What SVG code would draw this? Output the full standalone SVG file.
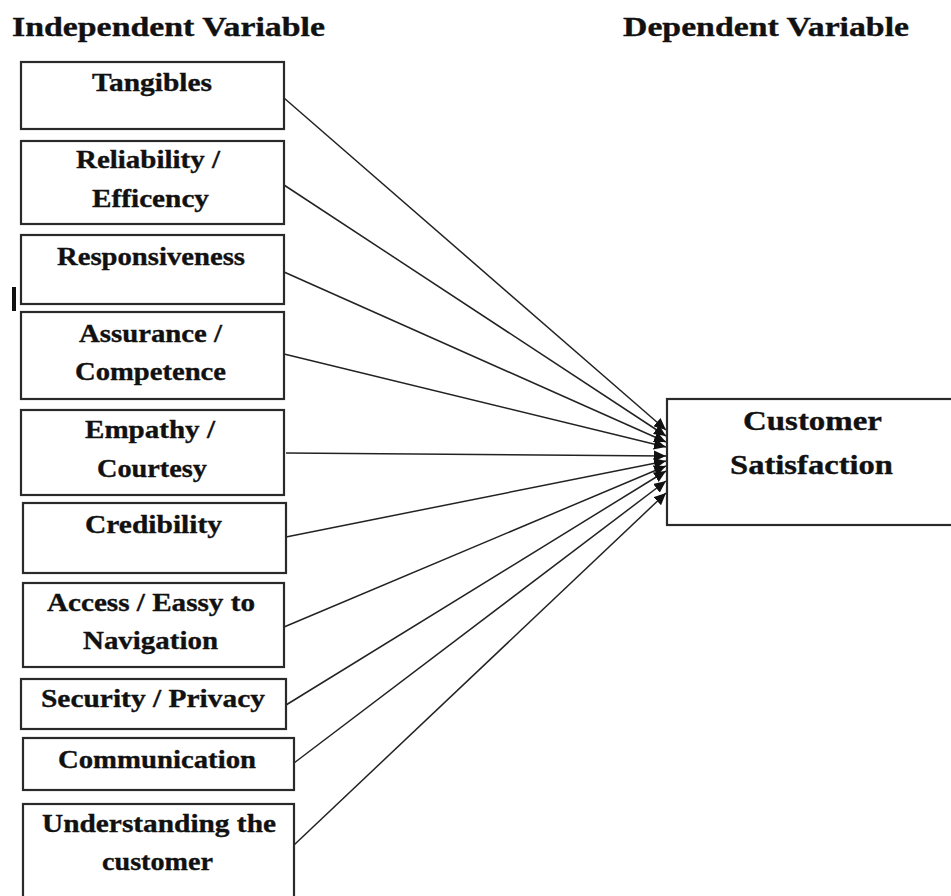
<svg xmlns="http://www.w3.org/2000/svg" width="951" height="896" viewBox="0 0 951 896">
  <style>
    .box { fill: #ffffff; stroke: #2a2a2a; stroke-width: 2.2; }
    .lbl { font-family: "Liberation Serif", "Times New Roman", serif; font-weight: bold; font-size: 26px; fill: #111111; stroke: #111111; stroke-width: 0.35; }
    .hdr { font-family: "Liberation Serif", "Times New Roman", serif; font-weight: bold; font-size: 27px; fill: #111111; stroke: #111111; stroke-width: 0.35; }
    .big { font-family: "Liberation Serif", "Times New Roman", serif; font-weight: bold; font-size: 27px; fill: #111111; stroke: #111111; stroke-width: 0.35; }
    .link { stroke: #222222; stroke-width: 1.5; fill: none; marker-end: url(#arrow); }
  </style>
  <defs>
    <marker id="arrow" markerUnits="userSpaceOnUse" markerWidth="13" markerHeight="11" refX="12" refY="5.5" orient="auto">
      <path d="M0,0 L12,5.5 L0,11 Z" fill="#111111"/>
    </marker>
  </defs>

  <rect x="0" y="0" width="951" height="896" fill="#ffffff"/>

  <!-- column headings -->
  <text class="hdr" x="12" y="36" textLength="313" lengthAdjust="spacingAndGlyphs">Independent Variable</text>
  <text class="hdr" x="623" y="36" textLength="286" lengthAdjust="spacingAndGlyphs">Dependent Variable</text>

  <!-- stray cursor mark -->
  <rect x="12" y="287" width="4" height="24" fill="#111111"/>

  <!-- connectors -->
  <g id="connectors">
    <line class="link" x1="284" y1="98" x2="666" y2="430"/>
    <line class="link" x1="284" y1="185" x2="666" y2="436"/>
    <line class="link" x1="284" y1="272" x2="666" y2="442"/>
    <line class="link" x1="284" y1="354" x2="666" y2="447"/>
    <line class="link" x1="286" y1="453" x2="666" y2="456"/>
    <line class="link" x1="286" y1="537" x2="666" y2="461"/>
    <line class="link" x1="284" y1="627" x2="666" y2="466"/>
    <line class="link" x1="286" y1="705" x2="666" y2="471"/>
    <line class="link" x1="294" y1="763" x2="666" y2="481"/>
    <line class="link" x1="294" y1="845" x2="666" y2="493"/>
  </g>

  <!-- independent variables -->
  <g id="tangibles">
    <rect class="box" x="21" y="62" width="263" height="67"/>
    <text class="lbl" x="92" y="91" textLength="120" lengthAdjust="spacingAndGlyphs">Tangibles</text>
  </g>
  <g id="reliability">
    <rect class="box" x="21" y="141" width="263" height="83"/>
    <text class="lbl" x="76" y="168" textLength="144" lengthAdjust="spacingAndGlyphs">Reliability /</text>
    <text class="lbl" x="92" y="207" textLength="117" lengthAdjust="spacingAndGlyphs">Efficency</text>
  </g>
  <g id="responsiveness">
    <rect class="box" x="21" y="235" width="263" height="69"/>
    <text class="lbl" x="57" y="265" textLength="188" lengthAdjust="spacingAndGlyphs">Responsiveness</text>
  </g>
  <g id="assurance">
    <rect class="box" x="21" y="312" width="263" height="87"/>
    <text class="lbl" x="79" y="342" textLength="143" lengthAdjust="spacingAndGlyphs">Assurance /</text>
    <text class="lbl" x="75" y="380" textLength="151" lengthAdjust="spacingAndGlyphs">Competence</text>
  </g>
  <g id="empathy">
    <rect class="box" x="21" y="410" width="263" height="85"/>
    <text class="lbl" x="85" y="438" textLength="130" lengthAdjust="spacingAndGlyphs">Empathy /</text>
    <text class="lbl" x="97" y="477" textLength="110" lengthAdjust="spacingAndGlyphs">Courtesy</text>
  </g>
  <g id="credibility">
    <rect class="box" x="23" y="503" width="263" height="70"/>
    <text class="lbl" x="85" y="533" textLength="137" lengthAdjust="spacingAndGlyphs">Credibility</text>
  </g>
  <g id="access">
    <rect class="box" x="23" y="583" width="261" height="84"/>
    <text class="lbl" x="47" y="611" textLength="208" lengthAdjust="spacingAndGlyphs">Access / Eassy to</text>
    <text class="lbl" x="83" y="649" textLength="135" lengthAdjust="spacingAndGlyphs">Navigation</text>
  </g>
  <g id="security">
    <rect class="box" x="21" y="679" width="265" height="50"/>
    <text class="lbl" x="41" y="707" textLength="224" lengthAdjust="spacingAndGlyphs">Security / Privacy</text>
  </g>
  <g id="communication">
    <rect class="box" x="23" y="738" width="271" height="52"/>
    <text class="lbl" x="58" y="768" textLength="198" lengthAdjust="spacingAndGlyphs">Communication</text>
  </g>
  <g id="understanding">
    <rect class="box" x="23" y="804" width="271" height="100"/>
    <text class="lbl" x="42" y="832" textLength="234" lengthAdjust="spacingAndGlyphs">Understanding the</text>
    <text class="lbl" x="102" y="870" textLength="111" lengthAdjust="spacingAndGlyphs">customer</text>
  </g>

  <!-- dependent variable -->
  <g id="customer-satisfaction">
    <rect class="box" x="667" y="399" width="300" height="126"/>
    <text class="big" x="743" y="430" textLength="139" lengthAdjust="spacingAndGlyphs">Customer</text>
    <text class="big" x="730" y="474" textLength="163" lengthAdjust="spacingAndGlyphs">Satisfaction</text>
  </g>
</svg>
